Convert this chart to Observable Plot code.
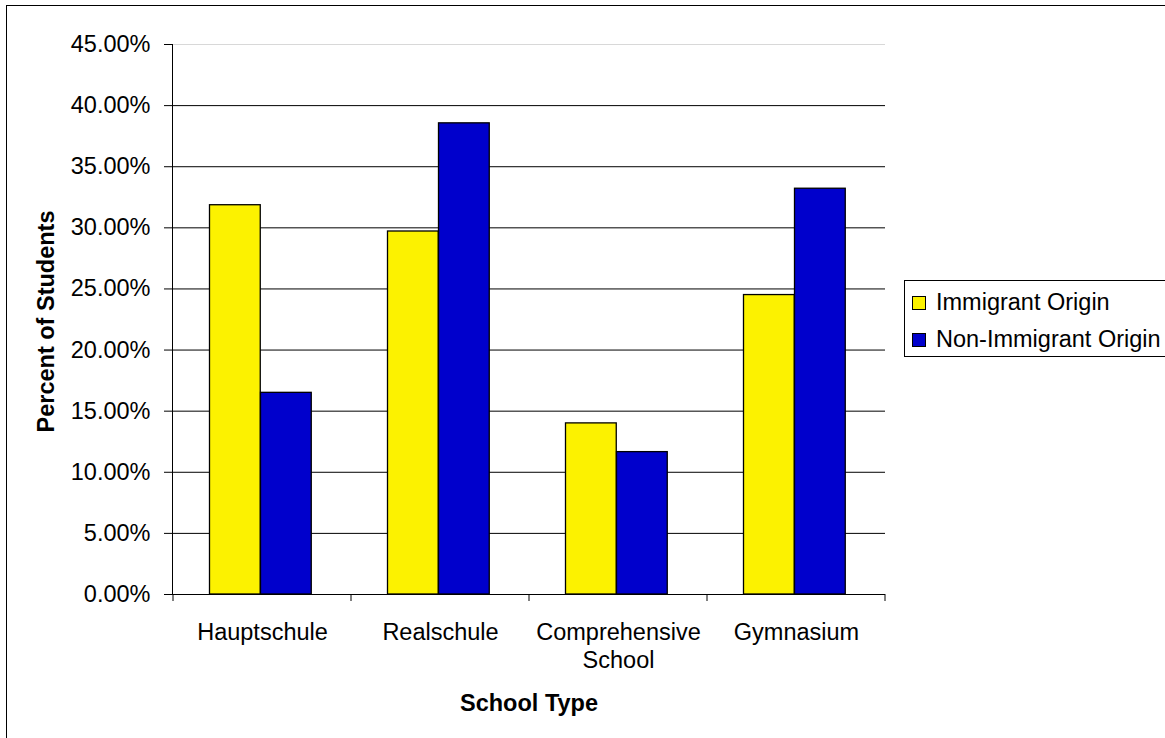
<!DOCTYPE html>
<html>
<head>
<meta charset="utf-8">
<script src="https://cdn.jsdelivr.net/npm/d3@7"></script>
<script src="https://cdn.jsdelivr.net/npm/@observablehq/plot@0.6"></script>
<style>
  html, body { margin: 0; padding: 0; background: #fff; }
  #wrap { position: relative; width: 1165px; height: 738px; overflow: hidden; font-family: "Liberation Sans", Arial, sans-serif; }
  #border { position: absolute; left: 6px; top: 5px; width: 1200px; height: 800px; border: 1px solid #000; box-sizing: border-box; }
  #chart { position: absolute; left: 0; top: 0; }
  #legend { position: absolute; left: 904px; top: 280px; width: 280px; height: 77px; border: 1px solid #000; box-sizing: border-box; background: #fff; }
  .item { position: absolute; left: 7px; height: 30px; line-height: 30px; font-size: 23.5px; color: #000; white-space: nowrap; }
  .sw { display: inline-block; width: 12px; height: 12px; border: 1px solid #000; margin-right: 10px; vertical-align: 0px; }
</style>
</head>
<body>
<div id="wrap">
  <div id="border"></div>
  <div id="chart"></div>
  <div id="legend"></div>
</div>
<script>
// School types along the x axis
const categories = ["Hauptschule", "Realschule", "Comprehensive School", "Gymnasium"];
// Share of students by origin, one value per school type
const series = ["Immigrant Origin", "Non-Immigrant Origin"];
const immigrant = [0.3185, 0.297, 0.140, 0.245];
const nonImmigrant = [0.165, 0.3855, 0.1165, 0.332];
const colors = ["#fcf200", "#0000cc"];
// Gridline / tick values on the y axis
const yTicks = [0, 0.05, 0.10, 0.15, 0.20, 0.25, 0.30, 0.35, 0.40, 0.45];

const rows = [
  ...categories.map((c, i) => ({type: c, series: series[0], value: immigrant[i]})),
  ...categories.map((c, i) => ({type: c, series: series[1], value: nonImmigrant[i]}))
];

const font = "Liberation Sans, Arial, sans-serif";
const fs = 23.5;

// Small ticks marking the boundaries between school types
function categoryTicks(index, scales) {
  const x = scales.x;
  const bw = typeof x.bandwidth === "function" ? x.bandwidth() : 0;
  const y0 = scales.y(0);
  const edges = categories.map(c => x(c)).concat(x(categories[categories.length - 1]) + bw);
  const g = d3.create("svg:g").attr("stroke", "#000").attr("stroke-width", 1);
  for (const e of edges) g.append("line").attr("x1", e).attr("x2", e).attr("y1", y0).attr("y2", y0 + 7);
  return g.node();
}

const chart = Plot.plot({
  width: 1165,
  height: 738,
  marginLeft: 172,
  marginRight: 280,
  marginTop: 44,
  marginBottom: 144,
  style: {fontFamily: font, fontSize: `${fs}px`, color: "#000", background: "transparent"},
  x: {domain: categories, paddingInner: 0, paddingOuter: 0},
  y: {domain: [0, 0.45]},
  color: {domain: series, range: colors},
  marks: [
    Plot.ruleY(yTicks.filter(t => t > 0 && t < 0.45), {stroke: "#000", strokeWidth: 1}),
    Plot.ruleY([0.45], {stroke: "#d8d8d8", strokeWidth: 1}),
    // Immigrant-origin bar on the left half of each school type, the other on the right
    Plot.barY(rows.filter(d => d.series === series[0]), {
      x: "type", y: "value", fill: "series", stroke: "#000", strokeWidth: 1.3,
      insetLeft: 36.5, insetRight: 90.75
    }),
    Plot.barY(rows.filter(d => d.series === series[1]), {
      x: "type", y: "value", fill: "series", stroke: "#000", strokeWidth: 1.3,
      insetLeft: 87.5, insetRight: 39.75
    }),
    Plot.ruleY([0], {stroke: "#000", strokeWidth: 1}),
    Plot.frame({anchor: "left", stroke: "#000", strokeWidth: 1}),
    Plot.axisY({ticks: yTicks, tickFormat: d3.format(".2%"), tickSize: 8, tickPadding: 14, fontSize: fs, label: null, stroke: "#000"}),
    Plot.axisX({tickSize: 0, tickPadding: 25, fontSize: fs, lineHeight: 1.2, label: null, tickFormat: d => d.replace(" ", "\n")}),
    categoryTicks,
    Plot.text(["Percent of Students"], {frameAnchor: "left", textAnchor: "middle", dx: -126, dy: 2, rotate: -90, fontWeight: "bold", fontSize: 23.5, fill: "#000"}),
    Plot.text(["School Type"], {frameAnchor: "bottom", textAnchor: "middle", dy: 116, fontWeight: "bold", fontSize: 23.5, fill: "#000"})
  ]
});
document.getElementById("chart").appendChild(chart);

// Legend box
const legend = d3.select("#legend");
series.forEach((s, i) => {
  const item = legend.append("div").attr("class", "item").style("top", `${6 + i * 37}px`);
  item.append("span").attr("class", "sw").style("background", colors[i]);
  item.append("span").text(s);
});
</script>
</body>
</html>
